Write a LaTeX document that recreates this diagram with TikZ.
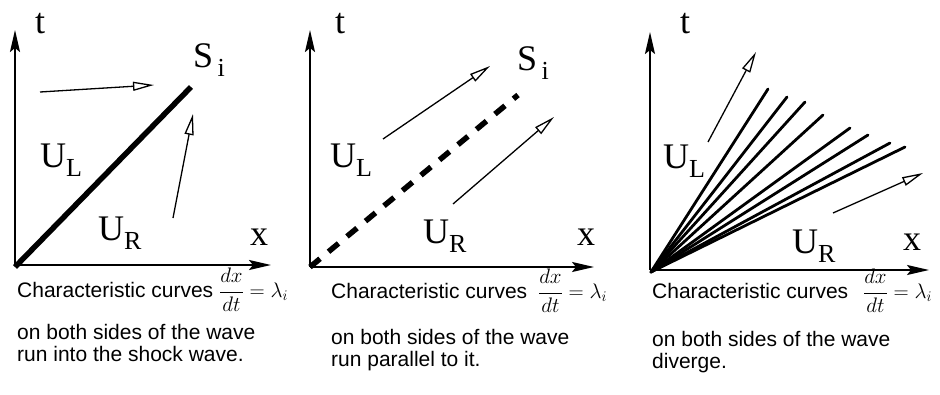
\RequirePackage{fix-cm}
\documentclass[tikz,border=0pt]{standalone}
\usepackage{fontspec}
\setmainfont{Liberation Sans}
\newfontfamily\plotfont{Liberation Serif}
\usetikzlibrary{arrows.meta, positioning}
\newcommand{\withsub}[2]{#1\raisebox{-9pt}{\fontsize{26}{26}\selectfont #2}}

\begin{document}
\begin{tikzpicture}[x=1pt, y=-1pt,
    axis/.style={line width=2pt, -{Stealth[length=22pt, width=10pt, inset=4pt]}},
    shock/.style={line width=5.5pt},
    charl/.style={line width=1.3pt, -{Triangle[open, length=21pt, width=9pt]}},
    fanl/.style={line width=2.8pt, line cap=round},
    lbl/.style={font=\plotfont\fontsize{36}{36}\selectfont, inner sep=0pt, anchor=base west},
    captxt/.style={font=\fontsize{21}{24}\selectfont, inner sep=0pt, anchor=base west},
    desc/.style={font=\fontsize{21}{24}\selectfont, inner sep=0pt}
  ]
  \useasboundingbox (0,0) rectangle (940,394);

  % panel 1: shock
  \coordinate (o1) at (15,265);
  \coordinate (t1) at (15,30);
  \coordinate (x1) at (271,265);
  \draw[axis] (o1) -- (t1);
  \draw[axis] (o1) -- (x1);
  \coordinate (s1) at (191,87);
  \draw[shock] ([yshift=-2pt]o1) -- (s1);
  \coordinate (la1) at (40,92);
  \coordinate (lb1) at (154,85);
  \coordinate (ra1) at (173,218);
  \coordinate (rb1) at (193,114);
  \draw[charl] (la1) -- (lb1);
  \draw[charl] (ra1) -- (rb1);
  \node[lbl] (tl1) at (35,33) {t};
  \node[lbl] (xl1) at (250,245) {x};
  \node[lbl] (si1) at (193,67) {\withsub{S}{\,i}};
  \node[lbl] (ul1) at (40,167) {\withsub{U}{L}};
  \node[lbl] (ur1) at (98,240) {\withsub{U}{R}};

  % panel 2: contact
  \coordinate (o2) at (310,267);
  \coordinate (t2) at (310,30);
  \coordinate (x2) at (594,267);
  \draw[axis] (o2) -- (t2);
  \draw[axis] (o2) -- (x2);
  \coordinate (s2) at (518,95);
  \draw[shock, dash pattern=on 13pt off 11pt] (o2) -- (s2);
  \coordinate (la2) at (383,139);
  \coordinate (lb2) at (490,66);
  \coordinate (ra2) at (453,204);
  \coordinate (rb2) at (554,117);
  \draw[charl] (la2) -- (lb2);
  \draw[charl] (ra2) -- (rb2);
  \node[lbl] (tl2) at (335,33) {t};
  \node[lbl] (xl2) at (577,245) {x};
  \node[lbl] (si2) at (517,70) {\withsub{S}{\,i}};
  \node[lbl] (ul2) at (330,167) {\withsub{U}{L}};
  \node[lbl] (ur2) at (423,243) {\withsub{U}{R}};

  % panel 3: rarefaction fan
  \coordinate (o3) at (650,270);
  \coordinate (t3) at (650,32);
  \coordinate (x3) at (929,270);
  \draw[axis] (o3) -- (t3);
  \draw[axis] (o3) -- (x3);
  \foreach \i/\px/\py in {1/768/89, 2/787/97, 3/805/102, 4/823/115,
                          5/850/128, 6/868/135, 7/890/143, 8/905/147}
    \coordinate (f\i) at (\px,\py);
  \foreach \i in {1,...,8}
    \draw[fanl] ([xshift=1pt, yshift=-2pt]o3) -- (f\i);
  \coordinate (la3) at (708,142);
  \coordinate (lb3) at (756,52);
  \coordinate (ra3) at (833,213);
  \coordinate (rb3) at (923,173);
  \draw[charl] (la3) -- (lb3);
  \draw[charl] (ra3) -- (rb3);
  \node[lbl] (tl3) at (680,33) {t};
  \node[lbl] (xl3) at (903,250) {x};
  \node[lbl] (ul3) at (663,168) {\withsub{U}{L}};
  \node[lbl] (ur3) at (792,253) {\withsub{U}{R}};

  % captions
  \node[captxt] (cap1) at (17,297) {Characteristic curves $\displaystyle\frac{dx}{dt} = \lambda_i$};
  \node[captxt] (cap2) at (331,298) {Characteristic curves\hspace{5pt} $\displaystyle\frac{dx}{dt} = \lambda_i$};
  \node[captxt] (cap3) at (652,298) {Characteristic curves\hspace{9pt} $\displaystyle\frac{dx}{dt} = \lambda_i$};
  \node[desc, below=42pt of cap1.base west, anchor=base west] (desc1a) {on both sides of the wave};
  \node[desc, below=22pt of desc1a.base west, anchor=base west] (desc1b) {run into the shock wave.};
  \node[desc, below=46pt of cap2.base west, anchor=base west] (desc2a) {on both sides of the wave};
  \node[desc, below=22pt of desc2a.base west, anchor=base west] (desc2b) {run parallel to it.};
  \node[desc, below=48pt of cap3.base west, anchor=base west] (desc3a) {on both sides of the wave};
  \node[desc, below=22pt of desc3a.base west, anchor=base west] (desc3b) {diverge.};
\end{tikzpicture}
\end{document}
